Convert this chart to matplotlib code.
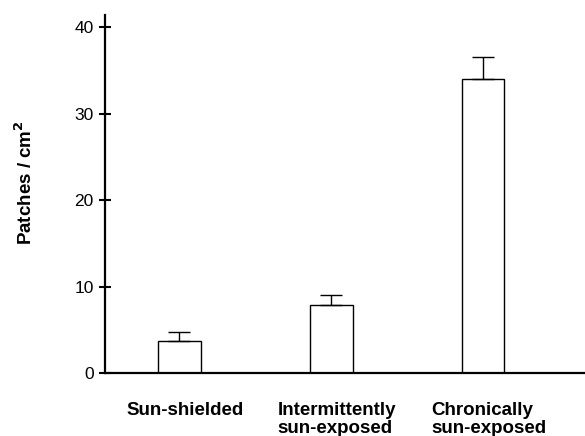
import matplotlib
matplotlib.use("Agg")
import matplotlib.pyplot as plt

categories = ["Sun-shielded", "Intermittently\nsun-exposed", "Chronically\nsun-exposed"]
values = [3.65, 7.9, 34.0]
errors = [1.05, 1.1, 2.5]
yticks = [0, 10, 20, 30, 40]

plt.rcParams['font.family'] = ['Liberation Sans', 'DejaVu Sans']

fig = plt.figure(figsize=(5.85, 4.36), dpi=100)
ax = fig.add_axes([105/585, 1-373/436, 480/585, 358/436])

x = list(range(len(categories)))
ax.bar(x, values, width=0.28, color='white', edgecolor='black', linewidth=1.0, zorder=2)
ax.errorbar(x, values, yerr=[[0]*len(errors), errors], fmt='none', ecolor='black',
            elinewidth=1.0, capsize=8, capthick=1.0, zorder=3)

ax.set_xlim(-0.49, 2.67)
ax.set_ylim(0, 41.4)
ax.set_yticks(yticks)
ax.set_yticklabels([str(t) for t in yticks], fontsize=12.5)
ax.tick_params(axis='y', direction='inout', length=8.5, width=1.5, pad=4)
ax.tick_params(axis='x', length=0)
ax.set_xticks([])

for spine in ['top', 'right']:
    ax.spines[spine].set_visible(False)
ax.spines['left'].set_linewidth(1.6)
ax.spines['bottom'].set_linewidth(1.6)

for xi, lab in zip(x, categories):
    ax.text(xi + 0.035, -3.3, lab, ha='center', va='top', fontsize=13.5, fontweight='bold',
            multialignment='left', linespacing=1.1)

fig.text(25/585, 1-183/436, 'Patches / cm$^{\\mathbf{2}}$', rotation=90, ha='center', va='center',
         fontsize=13.5, fontweight='bold')

fig.savefig('out.png', dpi=100)
